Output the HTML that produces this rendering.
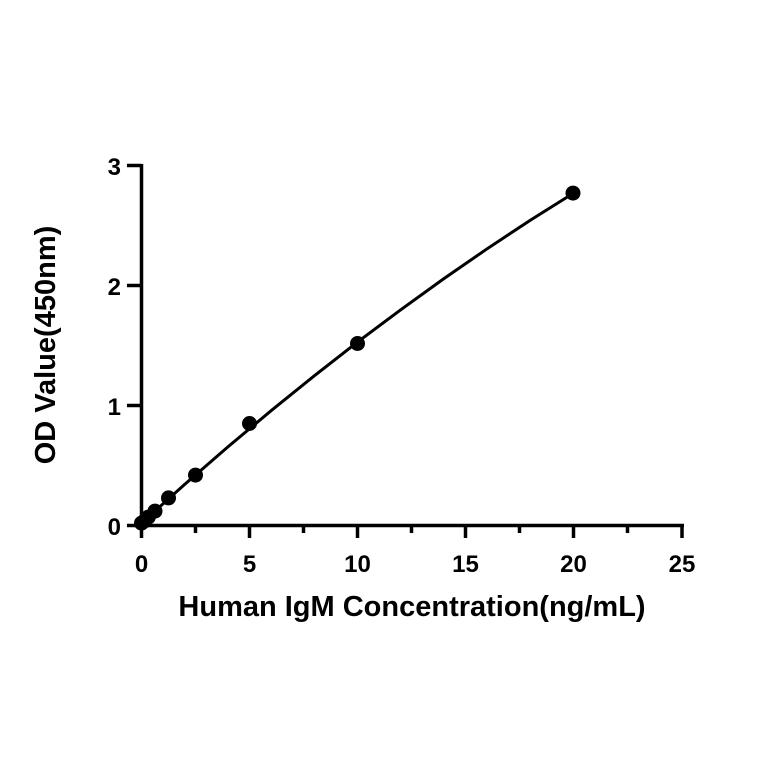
<!DOCTYPE html>
<html><head><style>body{margin:0;background:#fff}svg{display:block}</style></head>
<body>
<svg width="764" height="764" viewBox="0 0 764 764" xmlns="http://www.w3.org/2000/svg" font-family="Liberation Sans, sans-serif" font-weight="bold">
<g stroke="#000" stroke-width="3.5" fill="none">
<line x1="141.5" y1="164" x2="141.5" y2="527"/>
<line x1="140" y1="525.5" x2="684" y2="525.5"/>
<line x1="127" y1="165.5" x2="141.5" y2="165.5"/>
<line x1="127" y1="285.5" x2="141.5" y2="285.5"/>
<line x1="127" y1="405.5" x2="141.5" y2="405.5"/>
<line x1="127" y1="525.5" x2="141.5" y2="525.5"/>
<line x1="141.5" y1="525" x2="141.5" y2="538"/>
<line x1="195.5" y1="525" x2="195.5" y2="533"/>
<line x1="249.5" y1="525" x2="249.5" y2="538"/>
<line x1="303.5" y1="525" x2="303.5" y2="533"/>
<line x1="357.5" y1="525" x2="357.5" y2="538"/>
<line x1="411.5" y1="525" x2="411.5" y2="533"/>
<line x1="465.5" y1="525" x2="465.5" y2="538"/>
<line x1="519.5" y1="525" x2="519.5" y2="533"/>
<line x1="573.5" y1="525" x2="573.5" y2="538"/>
<line x1="627.5" y1="525" x2="627.5" y2="533"/>
<line x1="682" y1="525" x2="682" y2="538"/>
<polyline stroke-width="3" points="141.5,523.1 184.7,484.4 227.9,446.9 271.1,410.7 314.3,375.8 357.5,342.1 400.7,309.8 443.9,278.6 487.1,248.8 530.3,220.2 573.5,193.1"/>
</g>
<g fill="#000">
<circle cx="141.5" cy="523.1" r="7.5"/><circle cx="144.9" cy="520.7" r="7.5"/><circle cx="148.3" cy="517.1" r="7.5"/><circle cx="155" cy="511.1" r="7.5"/><circle cx="168.5" cy="497.9" r="7.5"/><circle cx="195.5" cy="475.1" r="7.5"/><circle cx="249.5" cy="423.5" r="7.5"/><circle cx="357.5" cy="343.5" r="7.5"/><circle cx="573" cy="193.1" r="7.5"/>
</g>
<g font-size="24" text-anchor="end">
<text x="121" y="175">3</text><text x="121" y="295">2</text><text x="121" y="415">1</text><text x="121" y="535">0</text>
</g>
<g font-size="24" text-anchor="middle">
<text x="141.5" y="572">0</text><text x="249.5" y="572">5</text><text x="357.5" y="572">10</text><text x="465.5" y="572">15</text><text x="573.5" y="572">20</text><text x="682" y="572">25</text>
</g>
<text x="412" y="616" font-size="29" text-anchor="middle">Human IgM Concentration(ng/mL)</text>
<text transform="translate(55,345) rotate(-90)" font-size="29" text-anchor="middle">OD Value(450nm)</text>
</svg>
</body></html>
